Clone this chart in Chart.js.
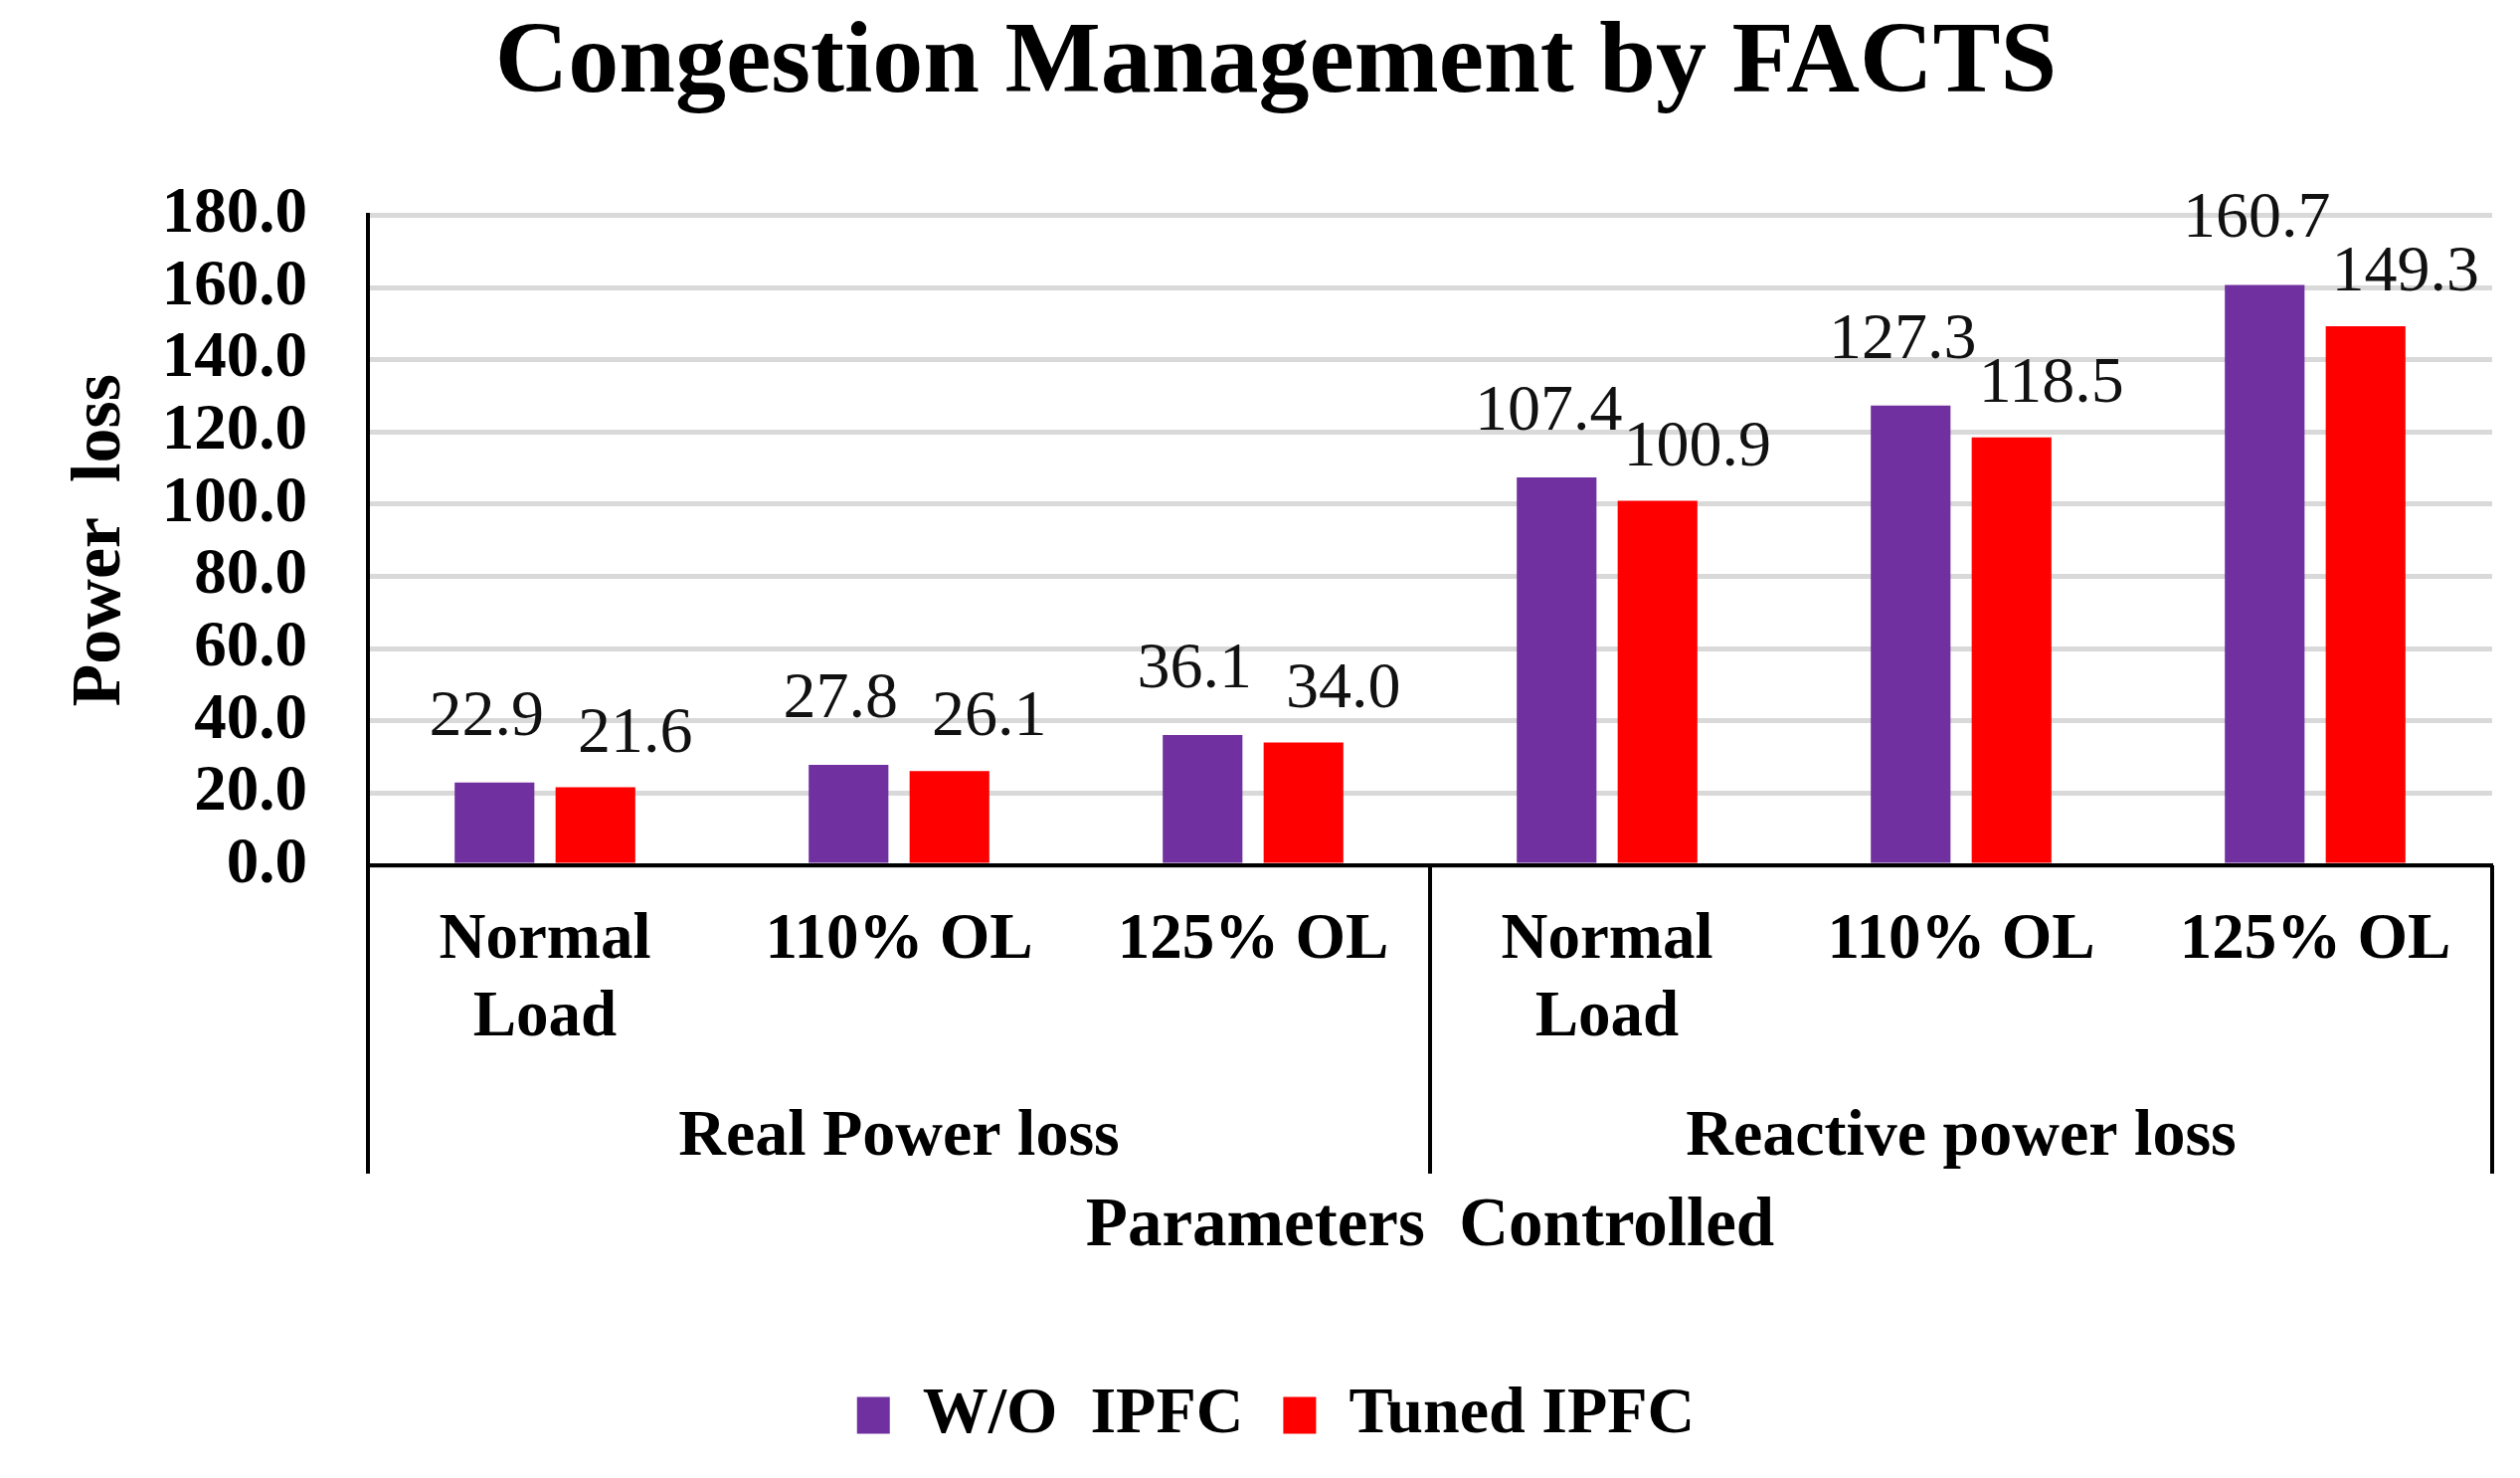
<!DOCTYPE html>
<html>
<head>
<meta charset="utf-8">
<script src="https://cdn.jsdelivr.net/npm/chart.js@4.4.0/dist/chart.umd.min.js"></script>
<style>
  html, body { margin: 0; padding: 0; background: #fff; }
</style>
</head>
<body>
<canvas id="lossChart" width="2534" height="1486"></canvas>
<script>
const categories = [['Normal', 'Load'], '110% OL', '125% OL', ['Normal', 'Load'], '110% OL', '125% OL'];
const groups = ['Real Power loss', 'Reactive power loss'];
const woIpfc = [22.9, 27.8, 36.1, 107.4, 127.3, 160.7];
const tunedIpfc = [21.6, 26.1, 34.0, 100.9, 118.5, 149.3];
const seriesNames = ['W/O  IPFC', 'Tuned IPFC'];

const serif = "'Liberation Serif', 'Times New Roman', serif";

// value labels above the bars (no datalabels plugin offline)
const valueLabels = {
    id: 'valueLabels',
    afterDatasetsDraw(chart) {
        const ctx = chart.ctx;
        const shift = [-8, 40];
        const lift = [48, 36];
        ctx.save();
        ctx.font = '66px ' + serif;
        ctx.fillStyle = '#111';
        ctx.textAlign = 'center';
        ctx.textBaseline = 'alphabetic';
        chart.data.datasets.forEach((ds, i) => {
            chart.getDatasetMeta(i).data.forEach((bar, j) => {
                ctx.fillText(ds.data[j].toFixed(1), bar.x + shift[i], bar.y - lift[i]);
            });
        });
        ctx.restore();
    }
};

// multi-level category axis dividers
const groupLines = {
    id: 'groupLines',
    afterDraw(chart) {
        const ctx = chart.ctx;
        const x = chart.scales.x;
        const x2 = chart.scales.x2;
        const yTop = chart.chartArea.bottom;
        const yEnd = x2.top + 80;
        const mid = (x.getPixelForValue(2) + x.getPixelForValue(3)) / 2;
        ctx.save();
        ctx.strokeStyle = '#000';
        ctx.lineWidth = 4;
        [x.left, mid, x.right].forEach(px => {
            ctx.beginPath();
            ctx.moveTo(px, yTop);
            ctx.lineTo(px, yEnd);
            ctx.stroke();
        });
        ctx.restore();
    }
};

const ctx = document.getElementById('lossChart').getContext('2d');
const myChart = new Chart(ctx, {
    type: 'bar',
    data: {
        labels: categories,
        datasets: [{
            label: seriesNames[0],
            data: woIpfc,
            backgroundColor: '#7030A0'
        }, {
            label: seriesNames[1],
            data: tunedIpfc,
            backgroundColor: '#FF0000'
        }]
    },
    options: {
        responsive: false,
        animation: false,
        devicePixelRatio: 1,
        categoryPercentage: 0.57,
        barPercentage: 0.79,
        layout: { padding: { left: 60, right: 28, top: 0, bottom: 20 } },
        plugins: {
            title: {
                display: true,
                text: 'Congestion Management by FACTS',
                color: '#000',
                font: { family: serif, size: 102, weight: 'bold' },
                padding: { top: 4, bottom: 90 }
            },
            legend: {
                position: 'bottom',
                labels: {
                    color: '#000',
                    font: { family: serif, size: 66, weight: 'bold' },
                    boxWidth: 33,
                    boxHeight: 37,
                    padding: 40
                }
            },
            tooltip: { enabled: false }
        },
        scales: {
            x: {
                weight: 0,
                grid: { display: false, drawTicks: false },
                border: { color: '#000', width: 4 },
                ticks: {
                    color: '#000',
                    font: { family: serif, size: 65, weight: 'bold' },
                    padding: 37,
                    maxRotation: 0,
                    autoSkip: false
                },
                afterFit(scale) { scale.height = 230; }
            },
            x2: {
                type: 'category',
                labels: groups,
                position: 'bottom',
                weight: 1,
                offset: true,
                grid: { display: false, drawTicks: false },
                border: { display: false },
                ticks: {
                    color: '#000',
                    font: { family: serif, size: 66, weight: 'bold' },
                    padding: 4,
                    maxRotation: 0
                },
                title: {
                    display: true,
                    text: 'Parameters  Controlled',
                    color: '#000',
                    font: { family: serif, size: 69, weight: 'bold' },
                    padding: { top: 4, bottom: 74 }
                },
                afterFit(scale) { scale.height = 250; }
            },
            y: {
                min: 0,
                max: 180,
                grid: { color: '#d9d9d9', lineWidth: 5, drawTicks: false },
                border: { color: '#000', width: 4 },
                ticks: {
                    stepSize: 20,
                    autoSkip: false,
                    color: '#000',
                    font: { family: serif, size: 65, weight: 'bold' },
                    padding: 61,
                    callback: v => v.toFixed(1)
                },
                title: {
                    display: true,
                    text: 'Power  loss',
                    color: '#000',
                    font: { family: serif, size: 70, weight: 'bold' },
                    padding: { top: 0, bottom: 0 }
                },
                afterFit(scale) { scale.width = 310; }
            }
        }
    },
    plugins: [valueLabels, groupLines]
});
</script>
</body>
</html>
